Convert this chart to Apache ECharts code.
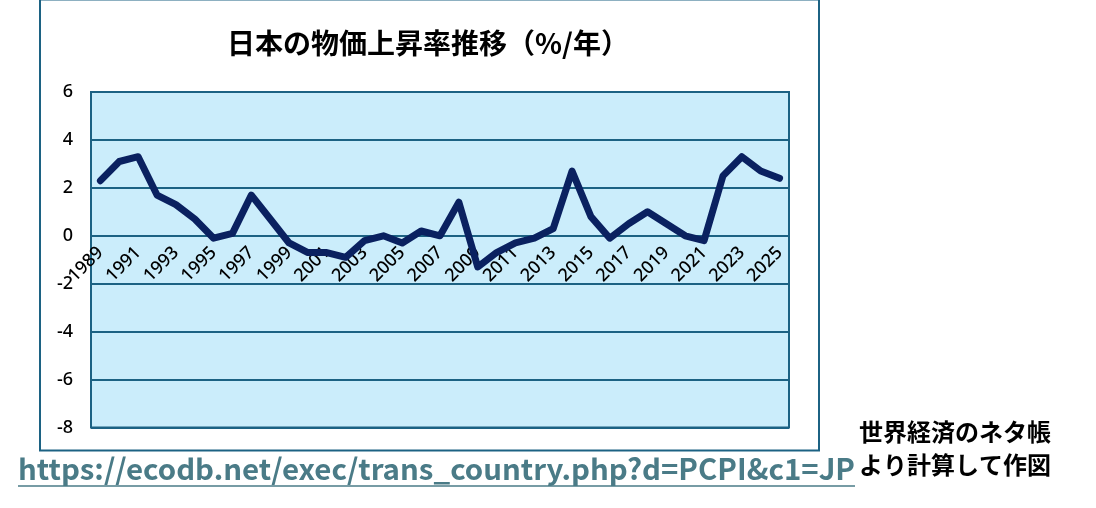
<!DOCTYPE html>
<html><head><meta charset="utf-8">
<style>html,body{margin:0;padding:0;background:#fff}#c{width:1096px;height:508px}</style>
<script src="https://cdn.jsdelivr.net/npm/echarts@6/dist/echarts.min.js"></script>
</head><body><div id="c"></div>
<script>
const years = ['1989','1990','1991','1992','1993','1994','1995','1996','1997','1998','1999','2000','2001','2002','2003','2004','2005','2006','2007','2008','2009','2010','2011','2012','2013','2014','2015','2016','2017','2018','2019','2020','2021','2022','2023','2024','2025'];
const inflation = [2.3,3.1,3.3,1.7,1.3,0.7,-0.1,0.1,1.7,0.7,-0.3,-0.7,-0.7,-0.9,-0.2,0.0,-0.3,0.2,0.0,1.4,-1.3,-0.7,-0.3,-0.1,0.3,2.7,0.8,-0.1,0.5,1.0,0.5,0.0,-0.2,2.5,3.3,2.7,2.4];
const titleText = '日本の物価上昇率推移（%/年）';
const sourceUrl = 'https://ecodb.net/exec/trans_country.php?d=PCPI&c1=JP';
const creditLines = ['世界経済のネタ帳', 'より計算して作図'];

const urlFont = 'bold 29px "Noto Sans CJK JP"';
const mctx = document.createElement('canvas').getContext('2d');
mctx.font = urlFont;
const urlScaleX = 837 / mctx.measureText(sourceUrl).width;

const chart = echarts.init(document.getElementById('c'), null, {renderer: 'canvas'});
const gridColor = '#1C6283';
const gridTop = 92, gridBottomPx = 427.5;
const yMin = -8, yMax = 6;
const zeroOffset = -(gridBottomPx - gridTop) * (0 - yMin) / (yMax - yMin);
const tickFont = {fontSize: 18, fontWeight: 500, color: '#000', fontFamily: 'Noto Sans'};
chart.setOption({
  animation: false,
  backgroundColor: '#ffffff',
  grid: {left: 91, right: 307, top: gridTop, bottom: 508 - gridBottomPx, show: true, backgroundColor: '#CBEDFB', borderColor: gridColor, borderWidth: 2},
  xAxis: {
    type: 'category', data: years, boundaryGap: true, position: 'bottom', offset: zeroOffset,
    axisLine: {show: false},
    axisTick: {show: false},
    axisLabel: Object.assign({interval: 1, rotate: 45, margin: 14}, tickFont)
  },
  yAxis: {
    type: 'value', min: yMin, max: yMax, interval: 2,
    axisLine: {show: false}, axisTick: {show: false},
    splitLine: {show: true, lineStyle: {color: gridColor, width: 2}},
    axisLabel: Object.assign({margin: 18}, tickFont)
  },
  series: [{
    type: 'line', data: inflation, symbol: 'none', z: 5,
    lineStyle: {color: '#0A2160', width: 7, join: 'round', cap: 'round'}
  }],
  graphic: [
    {type: 'rect', shape: {x: 40, y: -0.5, width: 779, height: 451}, style: {fill: 'none', stroke: gridColor, lineWidth: 2}, z: 100},
    {type: 'text', x: 428, y: 43, style: {text: titleText, font: 'bold 28px "Noto Sans CJK JP"', fill: '#000', align: 'center', verticalAlign: 'middle'}},
    {type: 'text', x: 859, y: 432, style: {text: creditLines[0], font: 'bold 24px "Noto Sans CJK JP"', fill: '#000', align: 'left', verticalAlign: 'middle'}},
    {type: 'text', x: 859, y: 465, style: {text: creditLines[1], font: 'bold 24px "Noto Sans CJK JP"', fill: '#000', align: 'left', verticalAlign: 'middle'}},
    {type: 'text', x: 18, y: 469, scaleX: urlScaleX, style: {text: sourceUrl, font: urlFont, fill: '#4A7B87', align: 'left', verticalAlign: 'middle'}},
    {type: 'line', shape: {x1: 18, y1: 486, x2: 855, y2: 486}, style: {stroke: '#4A7B87', lineWidth: 1.5}}
  ]
});
</script></body></html>
